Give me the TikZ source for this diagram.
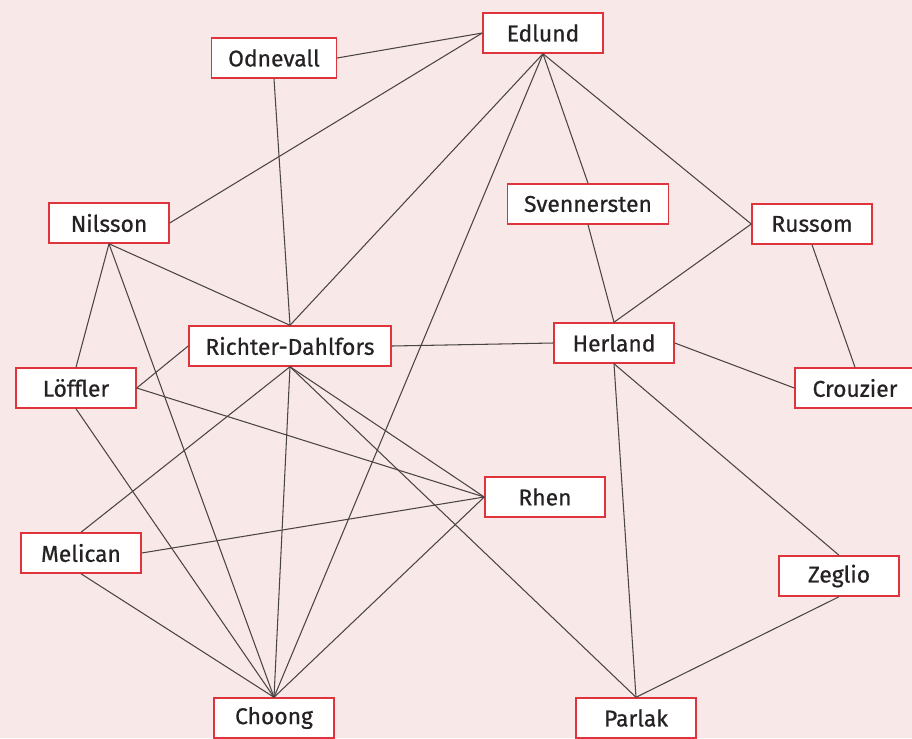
\documentclass[tikz,border=0pt]{standalone}
\usepackage{fontspec}
\setmainfont{Fira Sans}
\newfontfamily\labelfont{Fira Sans}[FakeBold=0.6]
\definecolor{bgpink}{HTML}{F9E8E8}
\definecolor{boxred}{HTML}{E0343C}
\definecolor{linegray}{HTML}{4A4444}
\definecolor{textdark}{HTML}{262222}

\begin{document}
\begin{tikzpicture}[x=0.02cm, y=-0.02cm,
    person/.style={draw=boxred, line width=0.85pt, fill=white, text=textdark,
        minimum width=2.4cm, minimum height=0.8cm, inner xsep=0.33cm,
        font=\labelfont\fontsize{13}{15}\selectfont},
    tie/.style={draw=linegray, line width=0.6pt}]

    % Background
    \fill[bgpink] (0, 0) rectangle (912, 738);
    \useasboundingbox (0, 0) rectangle (912, 738);

    % People
    \node[person] (edlund) at (543, 33) {Edlund};
    \node[person] (odnevall) at (274, 58) {Odnevall};
    \node[person] (nilsson) at (109, 223) {Nilsson};
    \node[person] (svennersten) at (588, 204) {Svennersten};
    \node[person] (russom) at (812, 224) {Russom};
    \node[person] (richter) at (290, 346) {Richter-Dahlfors};
    \node[person] (herland) at (614, 343) {Herland};
    \node[person] (loffler) at (76, 388) {Löffler};
    \node[person] (crouzier) at (855, 388) {Crouzier};
    \node[person] (rhen) at (545, 497) {Rhen};
    \node[person] (melican) at (81, 553) {Melican};
    \node[person] (zeglio) at (839, 576) {Zeglio};
    \node[person] (choong) at (274, 718) {Choong};
    \node[person] (parlak) at (636, 718) {Parlak};

    % Edlund
    \draw[tie] (edlund.west) -- (odnevall.east);
    \draw[tie] (edlund.west) -- (nilsson.east);
    \draw[tie] (edlund.south) -- (svennersten.north);
    \draw[tie] (edlund.south) -- (russom.west);
    \draw[tie] (edlund.south) -- (richter.north);
    \draw[tie] (edlund.south) -- (choong.north);

    % Odnevall, Nilsson
    \draw[tie] (odnevall.south) -- (richter.north);
    \draw[tie] (nilsson.south) -- (richter.north);
    \draw[tie] (nilsson.south) -- (loffler.north);
    \draw[tie] (nilsson.south) -- (choong.north);

    % Svennersten, Russom
    \draw[tie] (svennersten.south) -- (herland.north);
    \draw[tie] (russom.west) -- (herland.north);
    \draw[tie] (russom.south) -- (crouzier.north);

    % Richter-Dahlfors
    \draw[tie] (richter.west) -- (loffler.east);
    \draw[tie] (richter.east) -- (herland.west);
    \draw[tie] (richter.south) -- (melican.north);
    \draw[tie] (richter.south) -- (choong.north);
    \draw[tie] (richter.south) -- (rhen.west);
    \draw[tie] (richter.south) -- (parlak.north);

    % Herland
    \draw[tie] (herland.east) -- (crouzier.west);
    \draw[tie] (herland.south) -- (parlak.north);
    \draw[tie] (herland.south) -- (zeglio.north);

    % Lower part
    \draw[tie] (loffler.east) -- (rhen.west);
    \draw[tie] (loffler.south) -- (choong.north);
    \draw[tie] (melican.east) -- (rhen.west);
    \draw[tie] (melican.south) -- (choong.north);
    \draw[tie] (rhen.west) -- (choong.north);
    \draw[tie] (zeglio.south) -- (parlak.north);

\end{tikzpicture}
\end{document}
